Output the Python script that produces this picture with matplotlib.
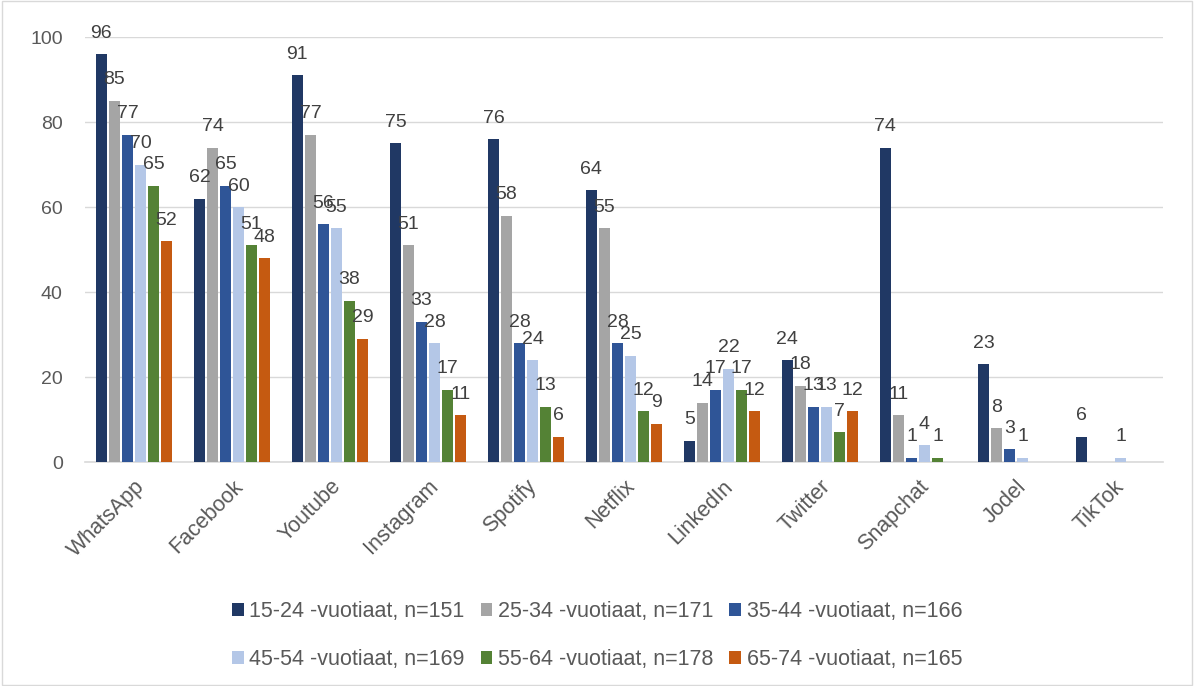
import numpy as np
import matplotlib
matplotlib.use('Agg')
import matplotlib.pyplot as plt
from matplotlib.patches import Rectangle

plt.rcParams['font.family'] = ['Liberation Sans', 'DejaVu Sans']

categories = ['WhatsApp', 'Facebook', 'Youtube', 'Instagram', 'Spotify', 'Netflix',
              'LinkedIn', 'Twitter', 'Snapchat', 'Jodel', 'TikTok']
series_names = ['15-24 -vuotiaat, n=151', '25-34 -vuotiaat, n=171', '35-44 -vuotiaat, n=166',
                '45-54 -vuotiaat, n=169', '55-64 -vuotiaat, n=178', '65-74 -vuotiaat, n=165']
age_15_24 = [96, 62, 91, 75, 76, 64, 5, 24, 74, 23, 6]
age_25_34 = [85, 74, 77, 51, 58, 55, 14, 18, 11, 8, 0]
age_35_44 = [77, 65, 56, 33, 28, 28, 17, 13, 1, 3, 0]
age_45_54 = [70, 60, 55, 28, 24, 25, 22, 13, 4, 1, 1]
age_55_64 = [65, 51, 38, 17, 13, 12, 17, 7, 1, 0, 0]
age_65_74 = [52, 48, 29, 11, 6, 9, 12, 12, 0, 0, 0]
series = [age_15_24, age_25_34, age_35_44, age_45_54, age_55_64, age_65_74]
colors = ['#203864', '#A5A5A5', '#2F5597', '#B4C7E7', '#548235', '#C55A11']

fig = plt.figure(figsize=(11.94, 6.86), dpi=100)
ax = fig.add_axes([0.0712, 0.3265, 0.9028, 0.6195])

x = np.arange(len(categories))
step = 0.133
width = 0.105
for i, (vals, c) in enumerate(zip(series, colors)):
    pos = x + (i - 2.5) * step
    ax.bar(pos, vals, width, color=c, label=series_names[i], zorder=3)
    for p, v in zip(pos, vals):
        if v > 0:
            ax.annotate(str(v), (p, v), xytext=(0, 9), textcoords='offset points',
                        ha='center', va='bottom', fontsize=14, color='#404040',
                        annotation_clip=False, zorder=4)

ax.set_xlim(-0.5, len(categories) - 0.5)
ax.set_ylim(0, 100)
ax.set_yticks(range(0, 101, 20))
ax.grid(axis='y', color='#D9D9D9', linewidth=1, zorder=0)
for s in ['top', 'right', 'left']:
    ax.spines[s].set_visible(False)
ax.spines['bottom'].set_color('#D9D9D9')
ax.spines['bottom'].set_linewidth(1.2)
ax.tick_params(axis='both', length=0, labelsize=14, labelcolor='#595959')
ax.tick_params(axis='y', pad=16)
ax.tick_params(axis='x', pad=10, labelsize=15.5)
ax.set_xticks(x)
ax.set_xticklabels(categories, rotation=45, ha='right', rotation_mode='anchor')

# legend fills column-wise, so reorder to get the rows right
handles, labels = ax.get_legend_handles_labels()
order = [0, 3, 1, 4, 2, 5]
fig.legend([handles[k] for k in order], [labels[k] for k in order],
           loc='lower center', bbox_to_anchor=(0.5, -0.005), ncol=3,
           frameon=False, fontsize=15.5, labelcolor='#595959', handlelength=0.55,
           handleheight=0.55, handletextpad=0.25, columnspacing=0.75, labelspacing=1.25)

fig.patches.append(Rectangle((0.002, 0.002), 0.996, 0.996, transform=fig.transFigure,
                             fill=False, edgecolor='#D9D9D9', linewidth=1))

fig.savefig('out.png', dpi=100)
